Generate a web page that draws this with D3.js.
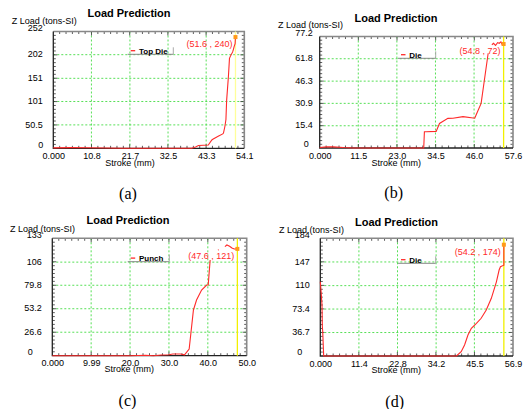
<!DOCTYPE html>
<html>
<head>
<meta charset="utf-8">
<script src="https://cdn.jsdelivr.net/npm/d3@7"></script>
<style>
body { margin: 0; background: #fff; }
svg { display: block; font-family: "Liberation Sans", Arial, sans-serif; }
</style>
</head>
<body>
<svg width="526" height="409"></svg>
<script>
// (a) Top Die
var strokeA = [0, 5, 10, 15, 20, 30, 39.2, 40.3, 41.1, 43.9, 44.9, 45.3, 46.7, 48.0, 48.2, 48.6, 48.9, 49.1, 49.6, 49.9, 50.3, 50.8, 51.0, 51.2, 51.5, 51.6];
var loadA   = [1, 1.5, 1.2, 0.5, 0, 0, 0, 3, 6, 7, 18, 20, 26, 31, 33, 47, 62, 104, 155, 194, 201, 208, 213, 219, 226, 240];
var xTicksA = ["0.000", "10.8", "21.7", "32.5", "43.3", "54.1"];
var yTicksA = [0, 50.5, 101, 151, 202, 252];

// (b) Die
var strokeB = [0, 2, 4, 7, 10, 31.0, 31.2, 31.7, 34.7, 35.7, 38.2, 39.7, 42.7, 46.2, 46.6, 48.1, 50.2, 51.0, 51.3, 51.8, 52.4, 53.0, 53.5, 54.0, 54.4, 54.8];
var loadB   = [0.3, 0.8, 0.8, 0.3, 0, 0, 11.3, 11.3, 11.5, 17, 20.5, 20.6, 21.7, 20.6, 22.8, 30.9, 65.6, null, 71.5, 72.5, 71, 73, 72.5, 73.5, 71.5, 72];
var xTicksB = ["0.000", "11.5", "23.0", "34.5", "46.0", "57.6"];
var yTicksB = [0, 15.4, 30.9, 46.3, 61.8, 77.2];

// (c) Punch
var strokeC = [0, 10, 20, 24, 26, 28, 30, 31, 33, 34, 35.2, 36.3, 37.1, 38.4, 39.7, 40.1, 40.6, 41.5, 42.6, 42.8, 43.5, 44.4, 44.9, 45.6, 46.2, 46.8, 47.6];
var loadC   = [0, 0, 0, 0.5, 0, 0.8, 1, 2, 2, 1, 7.6, 51.8, 63.1, 74.4, 80.1, 80.1, 108.4, null, 119.7, 120, null, 123.5, 125.4, 124, 122, 120.9, 121];
var xTicksC = ["0.000", "9.99", "20.0", "30.0", "40.0", "50.0"];
var yTicksC = [0, 26.6, 53.2, 79.8, 106, 133];

// (d) Die
var strokeD = [0, 0.2, 0.5, 0.6, 0.7, 1.0, 10, 20, 30, 40.2, 41.6, 42.6, 43.6, 44.6, 46.1, 47.5, 49.0, 50.5, 52.0, 52.8, 53.2, 53.8, 54.2, 54.2];
var loadD   = [116, 103, 80, 46, 40, 0, 0, 0, 0, 0, 6.7, 17.2, 32.8, 43.3, 51.1, 59, 71.9, 90.2, 116, 134.4, 139.6, 141, 142, 174];
var xTicksD = ["0.000", "11.4", "22.8", "34.2", "45.5", "56.9"];
var yTicksD = [0, 36.7, 73.4, 110, 147, 184];

var legendNames = ["Top Die", "Die", "Punch", "Die"];
var picks = [[51.6, 240], [54.8, 72], [47.6, 121], [54.2, 174]];
var captions = ["(a)", "(b)", "(c)", "(d)"];

function main() {
    var svg = d3.select("svg");

    var panels = [
        {ox: 0, oy: 0, left: 53.3, right: 244.3, top: 31.5, bottom: 148.3, stroke: strokeA, load: loadA, xTicks: xTicksA, yTicks: yTicksA,
         titleX: 129, titleY: 13.3, yTitleX: 11.7, yTitleY: 20.7, sX: 130, sY: 162.3, capX: 128, capY: 193,
         lx: 127.7, ly: 54.3, lw: 45.6, gap: 10.6, zeroX: 40.8, pickCol: "#ffff9a"},
        {ox: 263, oy: 0, left: 56.7, right: 250, top: 36.5, bottom: 148, stroke: strokeB, load: loadB, xTicks: xTicksB, yTicks: yTicksB,
         titleX: 133, titleY: 18.3, yTitleX: 15, yTitleY: 25, sX: 133.3, sY: 162.3, capX: 130.7, capY: 192.7,
         lx: 135, ly: 58.3, lw: 37.7, gap: 7, zeroX: 43.3, pickCol: "#f2f000"},
        {ox: 0, oy: 205, left: 52.3, right: 246.7, top: 33.3, bottom: 150.7, stroke: strokeC, load: loadC, xTicks: xTicksC, yTicks: yTicksC,
         titleX: 128, titleY: 15, yTitleX: 10, yTitleY: 23.3, sX: 129.3, sY: 164, capX: 127.5, capY: 195,
         lx: 127.7, ly: 56.7, lw: 41.6, gap: 10.6, zeroX: 30.3, pickCol: "#f2f000"},
        {ox: 263, oy: 205, left: 57.3, right: 250, top: 33.3, bottom: 151, stroke: strokeD, load: loadD, xTicks: xTicksD, yTicks: yTicksD,
         titleX: 133.5, titleY: 16.7, yTitleX: 16, yTitleY: 24.3, sX: 133.3, sY: 164.3, capX: 131.7, capY: 196.7,
         lx: 135, ly: 58.3, lw: 37.7, gap: 10.6, zeroX: 36.7, pickCol: "#f2f000"}
    ];

    panels.forEach(function(p, k) {
        var g = svg.append("g").attr("transform", "translate(" + p.ox + "," + p.oy + ")");
        var xVals = p.xTicks.map(function(d) { return parseFloat(d); });
        var xMax = xVals[xVals.length - 1], yMax = p.yTicks[p.yTicks.length - 1];

        var x = d3.scaleLinear().domain([0, xMax]).range([p.left, p.right]);
        var y = d3.scaleLinear().domain([0, yMax]).range([p.bottom, p.top]);

        // green dotted grid, interior ticks only
        g.selectAll(".gx").data(xVals.slice(1, -1)).enter().append("line")
         .attr("x1", function(d) { return x(d); }).attr("x2", function(d) { return x(d); })
         .attr("y1", p.top).attr("y2", p.bottom)
         .attr("stroke", "#44dd44").attr("stroke-width", 0.9).attr("stroke-dasharray", "2,2");
        g.selectAll(".gy").data(p.yTicks.slice(1, -1)).enter().append("line")
         .attr("y1", function(d) { return y(d); }).attr("y2", function(d) { return y(d); })
         .attr("x1", p.left).attr("x2", p.right)
         .attr("stroke", "#44dd44").attr("stroke-width", 0.9).attr("stroke-dasharray", "2,2");

        // minor ticks on all four sides, pointing inside
        var mx = d3.range(1, 30).map(function(i) { return i * xMax / 30; });
        var my = d3.range(1, 30).map(function(i) { return i * yMax / 30; });
        var ticks = g.append("g").attr("stroke", "#333").attr("stroke-width", 0.8);
        mx.forEach(function(v, i) {
            var len = (i + 1) % 6 == 0 ? 4 : 2.5;
            ticks.append("line").attr("x1", x(v)).attr("x2", x(v)).attr("y1", p.bottom).attr("y2", p.bottom - len);
            ticks.append("line").attr("x1", x(v)).attr("x2", x(v)).attr("y1", p.top).attr("y2", p.top + len);
        });
        my.forEach(function(v, i) {
            var len = (i + 1) % 6 == 0 ? 4 : 2.5;
            ticks.append("line").attr("y1", y(v)).attr("y2", y(v)).attr("x1", p.left).attr("x2", p.left + len);
            ticks.append("line").attr("y1", y(v)).attr("y2", y(v)).attr("x1", p.right).attr("x2", p.right - len);
        });

        // frame: dark left/bottom, grey top/right
        g.append("path").attr("d", "M" + p.left + "," + p.top + "H" + p.right + "V" + p.bottom)
         .attr("fill", "none").attr("stroke", "#888").attr("stroke-width", 1.6);
        g.append("path").attr("d", "M" + p.left + "," + p.top + "V" + p.bottom + "H" + p.right)
         .attr("fill", "none").attr("stroke", "#222").attr("stroke-width", 1.3);

        // yellow pick line + the load curve
        var pk = picks[k];
        g.append("line").attr("x1", x(pk[0])).attr("x2", x(pk[0])).attr("y1", p.top).attr("y2", p.bottom)
         .attr("stroke", p.pickCol).attr("stroke-width", 1.3);

        var pts = p.stroke.map(function(s, i) { return {s: s, v: p.load[i]}; });
        var line = d3.line().defined(function(d) { return d.v != null; })
            .x(function(d) { return x(d.s); }).y(function(d) { return y(d.v); });
        g.append("path").datum(pts).attr("d", line)
         .attr("fill", "none").attr("stroke", "#ff2a2a").attr("stroke-width", 1.1);

        g.append("rect").attr("x", x(pk[0]) - 2).attr("y", y(pk[1]) - 2).attr("width", 4).attr("height", 4)
         .attr("fill", "#ff9a1a");
        g.append("text").attr("x", x(pk[0]) - 3).attr("y", y(pk[1]) + 10)
         .attr("text-anchor", "end").attr("font-size", 9).attr("fill", "#ff2a2a")
         .text("(" + pk[0] + " , " + pk[1] + ")");

        // axes labels
        var xa = g.append("g").attr("transform", "translate(0," + p.bottom + ")")
         .call(d3.axisBottom(x).tickValues(xVals).tickFormat(function(d, i) { return p.xTicks[i]; }).tickSize(0).tickPadding(4.3));
        xa.select(".domain").remove();
        xa.attr("font-size", 9).attr("font-family", null);
        xa.selectAll("text").attr("fill", "#000");

        var ya = g.append("g").attr("transform", "translate(" + p.left + ",0)")
         .call(d3.axisLeft(y).tickValues(p.yTicks).tickFormat(function(d) { return String(d); }).tickSize(0).tickPadding(p.gap));
        ya.select(".domain").remove();
        ya.attr("font-size", 9).attr("font-family", null);
        ya.selectAll("text").attr("fill", "#000")
          .attr("y", function(d, i) { return (i == 0 || i == p.yTicks.length - 1) ? -4 : -0.7; });
        ya.selectAll("text").filter(function(d) { return d == 0; })
          .attr("x", p.zeroX - p.left).attr("text-anchor", "middle");

        // legend
        g.append("line").attr("x1", p.lx).attr("x2", p.lx + p.lw).attr("y1", p.ly).attr("y2", p.ly)
         .attr("stroke", "#888").attr("stroke-width", 1);
        g.append("line").attr("x1", p.lx + p.lw).attr("x2", p.lx + p.lw).attr("y1", p.ly - 7).attr("y2", p.ly)
         .attr("stroke", "#aaa").attr("stroke-width", 1);
        g.append("line").attr("x1", p.lx + 3).attr("x2", p.lx + 7.5).attr("y1", p.ly - 3.6).attr("y2", p.ly - 3.6)
         .attr("stroke", "#ff2a2a").attr("stroke-width", 1.3);
        g.append("text").attr("x", p.lx + 11.3).attr("y", p.ly - 0.8)
         .attr("font-size", 8).attr("font-weight", "bold").text(legendNames[k]);

        // titles
        g.append("text").attr("x", p.titleX).attr("y", p.titleY + 4)
         .attr("text-anchor", "middle").attr("font-size", 11).attr("font-weight", "bold")
         .text("Load Prediction");
        g.append("text").attr("x", p.yTitleX).attr("y", p.yTitleY + 3.3)
         .attr("font-size", 9).text("Z Load (tons-SI)");
        g.append("text").attr("x", p.sX).attr("y", p.sY + 3.3)
         .attr("text-anchor", "middle").attr("font-size", 9).text("Stroke (mm)");
        g.append("text").attr("x", p.capX).attr("y", p.capY + 5.5)
         .attr("text-anchor", "middle").attr("font-size", 16)
         .attr("font-family", "'Liberation Serif', 'Times New Roman', serif")
         .text(captions[k]);
    });
}
main();
</script>
</body>
</html>
